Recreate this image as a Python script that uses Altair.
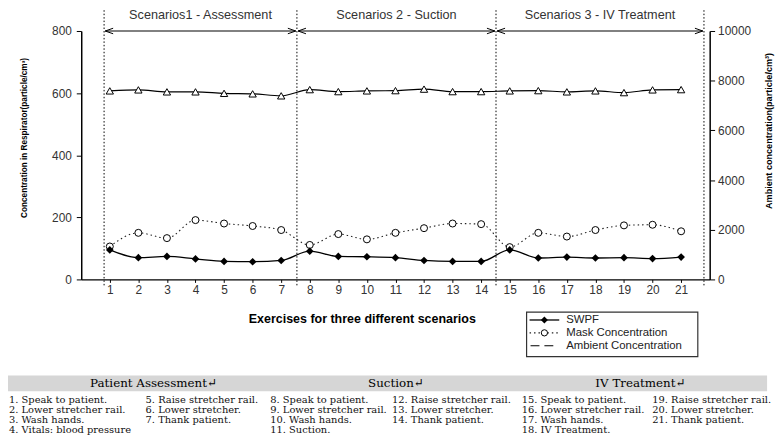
import altair as alt
import pandas as pd

# ---------------- data ----------------
exercise = list(range(1, 22))
swpf = [95, 70, 74, 66, 58, 57, 61, 91, 74, 73, 70, 61, 58, 58, 95, 69, 72, 69, 70, 67, 72]
mask = [106, 150, 133, 191, 180, 172, 159, 111, 146, 129, 150, 165, 180, 178, 104, 150, 138, 159, 174, 176, 155]
ambient = [7590, 7630, 7550, 7550, 7490, 7470, 7390, 7640, 7560, 7590, 7600, 7660, 7560, 7560,
           7590, 7600, 7550, 7590, 7520, 7630, 7640]
scenario_titles = ["Scenarios1 - Assessment", "Scenarios 2 - Suction", "Scenarios 3 - IV Treatment"]
scenario_bounds = [0.8, 7.55, 14.52, 21.8]
left_ticks = [0, 200, 400, 600, 800]
right_ticks = [0, 2000, 4000, 6000, 8000, 10000]
legend_labels = ["SWPF", "Mask Concentration", "Ambient Concentration"]
x_title = "Exercises for three different scenarios"
left_title = "Concentration in Respirator(particle/cm³)"
right_title = "Ambient concentration(particle/cm³)"
table_headers = ["Patient Assessment↵", "Suction↵", "IV Treatment↵"]
table_columns = [
    ["1. Speak to patient.", "2. Lower stretcher rail.", "3. Wash hands.", "4. Vitals: blood pressure"],
    ["5. Raise stretcher rail.", "6. Lower stretcher.", "7. Thank patient."],
    ["8. Speak to patient.", "9. Lower stretcher rail.", "10. Wash hands.", "11. Suction."],
    ["12. Raise stretcher rail.", "13. Lower stretcher.", "14. Thank patient."],
    ["15. Speak to patient.", "16. Lower stretcher rail.", "17. Wash hands.", "18. IV Treatment."],
    ["19. Raise stretcher rail.", "20. Lower stretcher.", "21. Thank patient."],
]

# ---------------- layout ----------------
W, H = 635, 251
PAD_L, PAD_T = 74, 21
TOTAL_W, TOTAL_H = 775, 430
SANS = "Liberation Sans"
SERIF = "DejaVu Serif"

df = pd.DataFrame({"x": exercise, "swpf": swpf, "mask": mask, "ambient": ambient})
dummy = pd.DataFrame({"a": [0]})

xs = alt.Scale(domain=[0, 22], nice=False, zero=False)
xaxis = alt.Axis(values=exercise, title=None, grid=False, domainColor="black", domainWidth=1.3,
                 tickColor="black", tickSize=3, labelFont=SANS, labelFontSize=12, labelColor="#333",
                 labelPadding=2, labelFlush=False)
ly = alt.Scale(domain=[0, 800], nice=False)
laxis = alt.Axis(values=left_ticks, title=None, grid=False, orient="left", domainColor="black",
                 domainWidth=1.5, tickColor="black", tickSize=5, labelFont=SANS, labelFontSize=12,
                 labelColor="#333", labelPadding=5, format="d")
ry = alt.Scale(domain=[0, 10000], nice=False)
raxis = alt.Axis(values=right_ticks, title=None, grid=False, orient="right", domainColor="black",
                 domainWidth=1.5, tickColor="black", tickSize=5, labelFont=SANS, labelFontSize=12,
                 labelColor="#333", labelPadding=3, format="d")

X = alt.X("x:Q", scale=xs, axis=xaxis)

base = alt.Chart(df)
swpf_line = base.mark_line(color="black", strokeWidth=1.3, interpolate="monotone").encode(
    x=X, y=alt.Y("swpf:Q", scale=ly, axis=laxis))
swpf_pts = base.mark_point(shape="diamond", filled=True, color="black", size=60, opacity=1).encode(
    x=X, y=alt.Y("swpf:Q", scale=ly, axis=laxis))
mask_line = base.mark_line(color="#222", strokeWidth=1.1, strokeDash=[1.5, 3], interpolate="monotone").encode(
    x=X, y=alt.Y("mask:Q", scale=ly, axis=laxis))
mask_pts = base.mark_point(shape="circle", filled=True, fill="white", stroke="black", strokeWidth=1,
                           size=50, opacity=1).encode(x=X, y=alt.Y("mask:Q", scale=ly, axis=laxis))

# scenario separators, arrows and titles
bounds_df = pd.DataFrame({"x": scenario_bounds})
sep = alt.Chart(bounds_df).mark_rule(color="black", strokeWidth=1, strokeDash=[1.5, 2]).encode(
    x=X, y=alt.value(-21), y2=alt.value(258))
gap = 0.04
arrows_df = pd.DataFrame({"x": [b + gap for b in scenario_bounds[:-1]],
                          "x2": [b - gap for b in scenario_bounds[1:]]})
arrow_line = alt.Chart(arrows_df).mark_rule(color="black", strokeWidth=1).encode(
    x=X, x2="x2:Q", y=alt.value(0))
left_heads = alt.Chart(arrows_df).mark_point(shape="M2,-0.7L0,0L2,0.7", filled=False, stroke="black",
                                             strokeWidth=1, size=64, opacity=1).encode(x=X, y=alt.value(0))
right_heads = alt.Chart(arrows_df).mark_point(shape="M-2,-0.7L0,0L-2,0.7", filled=False, stroke="black",
                                              strokeWidth=1, size=64, opacity=1).encode(
    x=alt.X("x2:Q", scale=xs, axis=xaxis), y=alt.value(0))
scen_df = pd.DataFrame({"x": [(scenario_bounds[i] + scenario_bounds[i + 1]) / 2 for i in range(3)],
                        "t": scenario_titles})
scen_text = alt.Chart(scen_df).mark_text(font=SANS, fontSize=12.8, color="#333").encode(
    x=X, y=alt.value(-16), text="t:N")


def txt(s, x, y, **kw):
    return alt.Chart(dummy).mark_text(**kw).encode(x=alt.value(x), y=alt.value(y), text=alt.value(s))


titles = [
    txt(left_title, -57, 108, angle=270, font=SANS, fontSize=8.3, fontWeight="bold", color="black"),
    txt(right_title, 695, 101, angle=270, font=SANS, fontSize=9.2, fontWeight="bold", color="black"),
    txt(x_title, 284, 291, font=SANS, fontSize=12.6, fontWeight="bold", color="black"),
]

# legend
leg_box = alt.Chart(dummy).mark_rect(fill="white", stroke="#333", strokeWidth=1.2).encode(
    x=alt.value(450), x2=alt.value(623), y=alt.value(284), y2=alt.value(329))
rows_y = [292, 305, 318]
leg = [leg_box]
leg.append(alt.Chart(dummy).mark_rule(color="black", strokeWidth=1.3).encode(
    x=alt.value(453), x2=alt.value(483), y=alt.value(rows_y[0])))
leg.append(alt.Chart(dummy).mark_point(shape="diamond", filled=True, color="black", size=50, opacity=1).encode(
    x=alt.value(468), y=alt.value(rows_y[0])))
leg.append(alt.Chart(dummy).mark_rule(color="#222", strokeWidth=1.1, strokeDash=[1.5, 3]).encode(
    x=alt.value(453), x2=alt.value(483), y=alt.value(rows_y[1])))
leg.append(alt.Chart(dummy).mark_point(shape="circle", filled=True, fill="white", stroke="black",
                                       strokeWidth=1, size=40, opacity=1).encode(
    x=alt.value(468), y=alt.value(rows_y[1])))
leg.append(alt.Chart(dummy).mark_rule(color="black", strokeWidth=1.1, strokeDash=[9, 5]).encode(
    x=alt.value(454), x2=alt.value(481), y=alt.value(rows_y[2])))
for lab, yy in zip(legend_labels, rows_y):
    leg.append(txt(lab, 490, yy, align="left", baseline="middle", font=SANS, fontSize=11.5, color="#222"))

# table
tbl = [alt.Chart(dummy).mark_rect(fill="#d6d6d6").encode(
    x=alt.value(-74), x2=alt.value(693), y=alt.value(348), y2=alt.value(364))]
for h, cx in zip(table_headers, [73, 318, 565]):
    tbl.append(txt(h, cx, 356, align="center", baseline="middle", font=SERIF, fontSize=12, color="black"))
row_ys = [372.5, 383, 393.2, 403.5]
for col, cx in zip(table_columns, [-73, 65, 191, 314, 445, 577]):
    for line, ry_ in zip(col, row_ys):
        tbl.append(txt(line, cx, ry_, align="left", baseline="middle", font=SERIF, fontSize=10,
                       color="#111"))

left_group = alt.layer(sep, arrow_line, left_heads, right_heads, scen_text,
                       mask_line, swpf_line, mask_pts, swpf_pts, *titles, *leg, *tbl)

amb_line = base.mark_line(color="black", strokeWidth=1.1, interpolate="monotone").encode(
    x=X, y=alt.Y("ambient:Q", scale=ry, axis=raxis))
amb_pts = base.mark_point(shape="triangle-up", filled=True, fill="white", stroke="black", strokeWidth=1,
                          size=55, opacity=1).encode(x=X, y=alt.Y("ambient:Q", scale=ry, axis=raxis))
right_group = alt.layer(amb_line, amb_pts)

chart = alt.layer(left_group, right_group).resolve_scale(y="independent").properties(
    width=W, height=H,
    padding={"left": PAD_L, "top": PAD_T, "right": TOTAL_W - PAD_L - W, "bottom": TOTAL_H - PAD_T - H},
    autosize=alt.AutoSizeParams(type="none"),
).configure_view(stroke=None)

chart.save("out.html", embed_options={"renderer": "svg", "actions": False})
